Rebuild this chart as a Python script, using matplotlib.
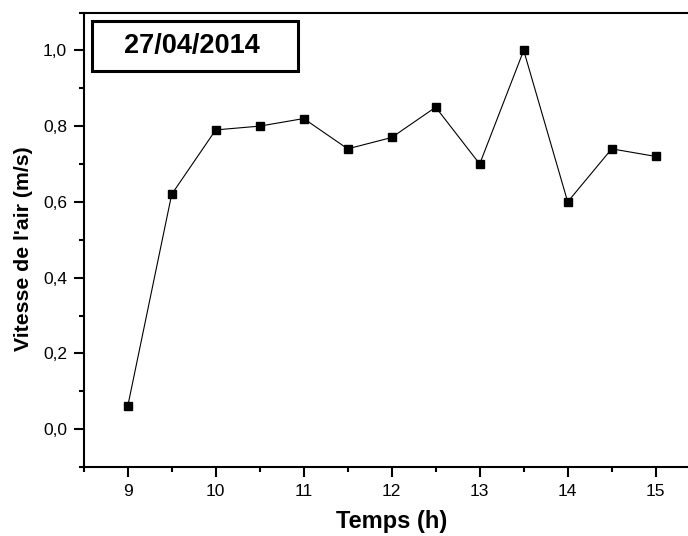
import matplotlib
matplotlib.use("Agg")
import matplotlib.pyplot as plt
from matplotlib.patches import Rectangle
from matplotlib.ticker import MultipleLocator, FuncFormatter

plt.rcParams['font.family'] = ['Liberation Sans', 'DejaVu Sans']

# Hourly air speed readings
hours = [9, 9.5, 10, 10.5, 11, 11.5, 12, 12.5, 13, 13.5, 14, 14.5, 15]
air_speed = [0.06, 0.62, 0.79, 0.80, 0.82, 0.74, 0.77, 0.85, 0.70, 1.00, 0.60, 0.74, 0.72]
date_label = "27/04/2014"
x_label = "Temps (h)"
y_label = "Vitesse de l'air (m/s)"

W, H = 688, 536
fig = plt.figure(figsize=(W / 100, H / 100), dpi=100)

# axes placed in pixel units; right side runs past the figure edge
left, right, top, bottom = 83.7, 699.7, 12.5, 467.0
ax = fig.add_axes([left / W, 1 - bottom / H, (right - left) / W, (bottom - top) / H])

ax.plot(hours, air_speed, color='black', lw=0.8, marker='s', ms=6.2,
        mfc='black', mec='black')

ax.set_xlim(8.5, 15.5)
ax.set_ylim(-0.1, 1.1)

ax.xaxis.set_major_locator(MultipleLocator(1))
ax.xaxis.set_minor_locator(MultipleLocator(0.5))
ax.yaxis.set_major_locator(MultipleLocator(0.2))
ax.yaxis.set_minor_locator(MultipleLocator(0.1))
ax.yaxis.set_major_formatter(FuncFormatter(lambda v, p: f"{v:.1f}".replace('.', ',').replace('-0,0', '0,0')))

ax.tick_params(which='major', direction='out', length=7, width=1.5, labelsize=12.5, pad=5)
ax.tick_params(which='minor', direction='out', length=3.5, width=1.5)
ax.tick_params(top=False, right=False)

for s in ax.spines.values():
    s.set_linewidth(1.5)

ax.set_xlabel(x_label, fontsize=17, fontweight='bold', labelpad=8)
ax.set_ylabel(y_label, fontsize=15.3, fontweight='bold')
ax.yaxis.set_label_coords(-0.082, 0.48)

# boxed date label
bx0, by0, bx1, by1 = 92, 21, 298, 71
fig.patches.append(Rectangle((bx0 / W, 1 - by1 / H), (bx1 - bx0) / W, (by1 - by0) / H,
                             transform=fig.transFigure, fill=False, ec='black', lw=2.2))
fig.text((bx0 + bx1) / 2 / W - 3 / W, 1 - (by0 + by1) / 2 / H, date_label, ha='center', va='center',
         fontsize=19.5, fontweight='bold')

fig.savefig("out.png", dpi=100)
